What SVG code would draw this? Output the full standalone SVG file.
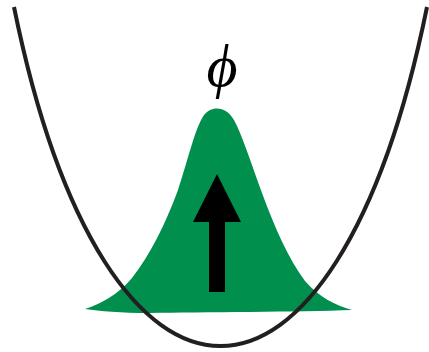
<svg xmlns="http://www.w3.org/2000/svg" width="429" height="352" viewBox="0 0 429 352">
<style>
.well{fill:none;stroke:#231f20;stroke-width:4;stroke-linecap:butt}
.dist{fill:#008f4c}
.arrow{fill:#000}
.lbl{font-family:"Liberation Serif","DejaVu Serif",serif;font-style:italic;font-size:60px;fill:#000}
</style>
<rect width="429" height="352" fill="#fff"/>
<g id="distribution">
<path class="dist" d="M85,309 C100,304 118,295 132,278 C150,255 165,225 178,190 C188,160 195,128 204,115 C210,107 225,104 234,120 C242,135 250,160 262,193 C275,228 288,258 305,281 C320,298 335,305 352,310 C300,312 200,312 150,313 C120,313 100,311 85,309 Z"/>
</g>
<g id="potential">
<path class="well" d="M14,7 C106,459 335,459 427,7"/>
</g>
<g id="spin">
<polygon class="arrow" points="217,174 193,222 209,222 209,292 225,292 225,222 241,222"/>
</g>
<g id="label">
<text class="lbl" x="222" y="86" text-anchor="middle">ϕ</text>
</g>
</svg>
